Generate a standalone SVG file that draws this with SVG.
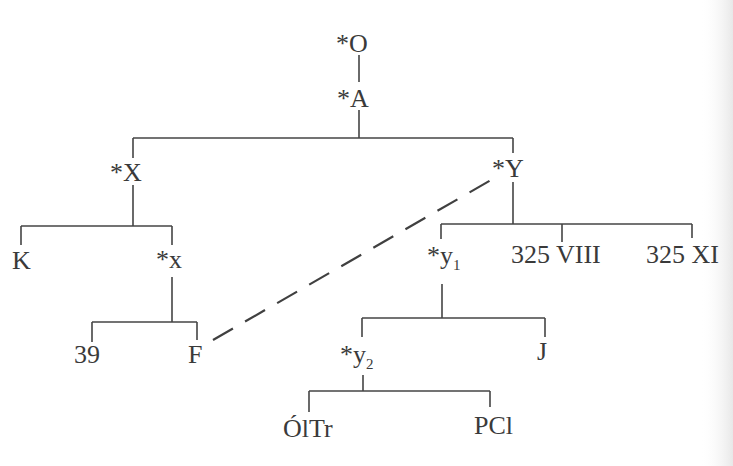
<svg xmlns="http://www.w3.org/2000/svg" width="733" height="466" viewBox="0 0 733 466">
<style>
  text { font-family: "Liberation Serif", "Times New Roman", serif; font-size: 26px; fill: #3a3a3a; }
  .sub { font-size: 15px; }
  .ln { stroke: #454545; stroke-width: 1.6; fill: none; }
  .dash { stroke: #404040; stroke-width: 2.2; fill: none; stroke-dasharray: 23 14; }
</style>
<defs>
  <linearGradient id="edge" x1="0" y1="0" x2="1" y2="0">
    <stop offset="0" stop-color="#ffffff" stop-opacity="0"/>
    <stop offset="1" stop-color="#e8e8e8"/>
  </linearGradient>
</defs>
<rect width="733" height="466" fill="#ffffff"/>
<rect x="700" y="0" width="33" height="466" fill="url(#edge)"/>

<g id="connectors">
  <path class="ln" d="M359 55 V82"/>
  <path class="ln" d="M359 110 V138 M133 138 H513 M133 138 V158 M513 138 V153"/>
  <path class="ln" d="M133 185 V226 M21 226 H172 M21 226 V245 M172 226 V245"/>
  <path class="ln" d="M172 277 V322 M92 322 H197 M92 322 V342 M197 322 V340"/>
  <path class="ln" d="M513 182 V224 M441 224 H692 M441 224 V239 M562 224 V242 M692 224 V238"/>
  <path class="ln" d="M442 284 V318 M362 318 H545 M362 318 V337 M545 318 V337"/>
  <path class="ln" d="M363 375 V391 M309 391 H490 M309 391 V412 M490 391 V407"/>
  <path class="dash" d="M213 340 L498 176"/>
</g>

<g id="nO"><text x="336" y="52">*O</text></g>
<g id="nA"><text x="337" y="107">*A</text></g>
<g id="nX"><text x="110" y="181">*X</text></g>
<g id="nY"><text x="492" y="177">*Y</text></g>
<g id="nK"><text x="12" y="269">K</text></g>
<g id="nx"><text x="156" y="268">*x</text></g>
<g id="n39"><text x="74" y="363">39</text></g>
<g id="nF"><text x="188" y="363">F</text></g>
<g id="ny1"><text x="427" y="264">*y<tspan class="sub" dy="6">1</tspan></text></g>
<g id="n325VIII"><text x="511" y="263">325 VIII</text></g>
<g id="n325XI"><text x="646" y="263">325 XI</text></g>
<g id="ny2"><text x="340" y="363">*y<tspan class="sub" dy="6">2</tspan></text></g>
<g id="nJ"><text x="537" y="360">J</text></g>
<g id="nOlTr"><text x="283" y="437">ÓlTr</text></g>
<g id="nPCl"><text x="474" y="434">PCl</text></g>
</svg>
